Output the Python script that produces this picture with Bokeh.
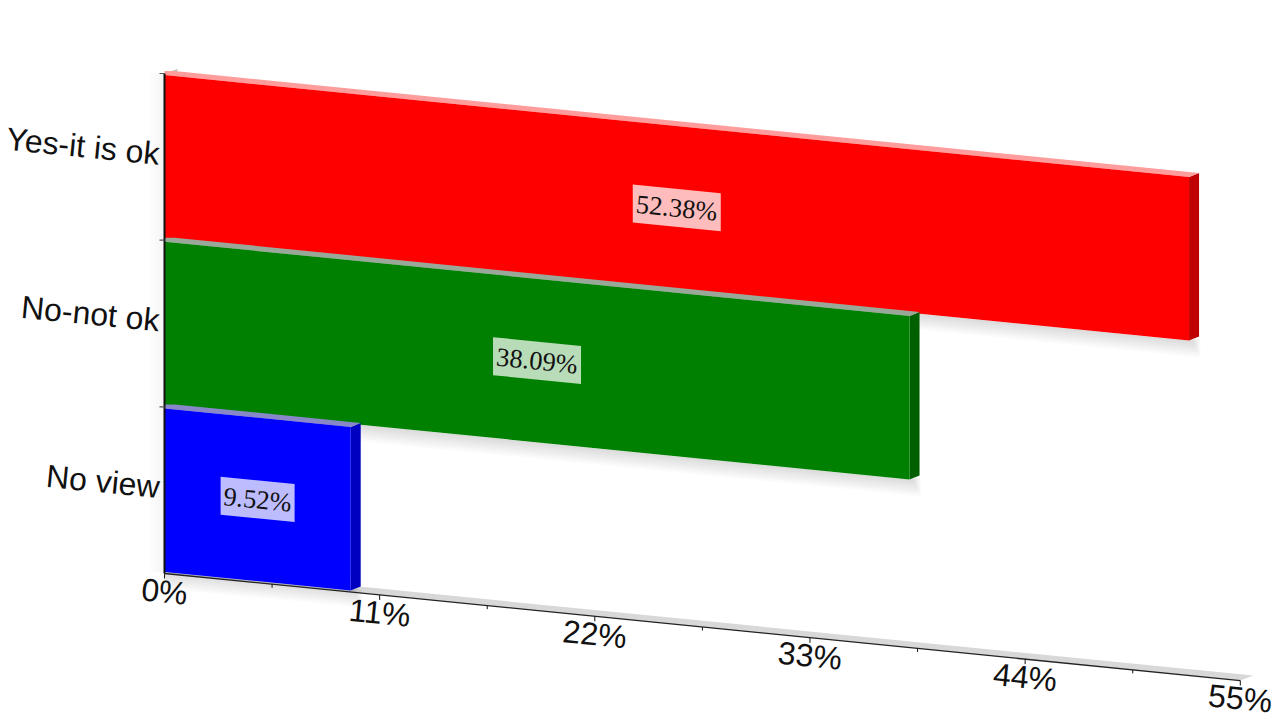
from bokeh.plotting import figure
from bokeh.embed import file_html
from bokeh.resources import INLINE
from bokeh.models import Range1d
from bokeh.core.properties import value

categories = ["Yes-it is ok", "No-not ok", "No view"]
values = [52.38, 38.09, 9.52]
labels = ["52.38%", "38.09%", "9.52%"]
front_colors = ["#ff0000", "#008000", "#0000ff"]
side_colors = ["#c00000", "#006000", "#0000c0"]
top_colors = ["#ff9c9c", "#9aa89a", "#8888c8"]
box_colors = ["#ffbcbc", "#b8dcb8", "#bcbcff"]
major_ticks = [0, 11, 22, 33, 44, 55]
minor_ticks = [5.5, 16.5, 27.5, 38.5, 49.5]
tick_labels = ["0%", "11%", "22%", "33%", "44%", "55%"]

W, H = 1280, 720
PX_PCT = 19.56          # pixels per percent
PX_ROW = 166.67         # pixels per category row
X0, Y0 = 164, 573       # position of the origin inside the figure
SKEW = 0.0995 * PX_PCT / PX_ROW   # rows dropped per percent
DX, DY = 10 / PX_PCT, 4 / PX_ROW  # depth of the bars
BAR = 163.5 / PX_ROW    # bar height in rows
ANGLE = -0.0992

p = figure(width=W, height=H, output_backend="svg", toolbar_location=None,
           min_border=0, outline_line_color=None,
           x_range=Range1d(-X0 / PX_PCT, (W - X0) / PX_PCT),
           y_range=Range1d(-(H - Y0) / PX_ROW, Y0 / PX_ROW))
p.axis.visible = False
p.grid.visible = False


def pt(pct, row):
    """Skewed chart plane: pct along the axis, row above the axis line."""
    return pct, row - SKEW * pct


def poly(corners, color, alpha=1.0):
    xs, ys = zip(*corners)
    p.patch(list(xs), list(ys), fill_color=color, fill_alpha=alpha, line_color=None)


px, py = 1 / PX_PCT, 1 / PX_ROW
n = len(categories)
last = major_ticks[-1]

# soft shadow left of the value axis
for k in range(5):
    poly([pt(-(k + 1) * 3 * px, n), pt(0, n), pt(0, 0), pt(-(k + 1) * 3 * px, 0)], "#000000", 0.006)

# floor band and wall cap
fdx, fdy = 13 * px, 5 * py
poly([pt(0, 0), pt(last, 0), (pt(last, 0)[0] + fdx, pt(last, 0)[1] + fdy), (fdx, fdy)], "#d8d8d8")
poly([(0, n), (fdx, n + 4.5 * py), (fdx, n + 2 * py), (0, n - 1.5 * py)], "#c0c0c0")

# bars, drawn from the back row to the front row
for i, (v, fc, sc, tc) in enumerate(zip(values, front_colors, side_colors, top_colors)):
    center = n - i - 0.5
    top, bot = center + BAR / 2, center - BAR / 2
    # soft shadow beneath the bar
    for k in range(7):
        d = (k + 1) * 2.4
        poly([pt(0, bot), pt(v, bot),
              (pt(v, bot)[0] + (d * 0.5 + 3) * px, pt(v, bot)[1] + 2 * py),
              (pt(v, bot)[0] + (d * 0.5 + 3) * px, pt(v, bot)[1] - d * py),
              pt(0, bot - d * py)], "#000000", 0.018)
    poly([pt(v, top), pt(v, bot),
          (pt(v, bot)[0] + DX, pt(v, bot)[1] + DY),
          (pt(v, top)[0] + DX, pt(v, top)[1] + DY)], sc)
    poly([pt(0, top), pt(v, top),
          (pt(v, top)[0] + DX, pt(v, top)[1] + DY),
          (DX, top + DY), (0, top + DY)], tc)
    poly([pt(0, top), pt(v, top), pt(v, bot), pt(0, bot)], fc)

# value axis lines and ticks
xa, ya = zip(pt(0, 0), pt(last, 0))
p.line(list(xa), list(ya), line_color="#222222", line_width=1.3)
p.line([0, 0], [0, n], line_color="#111111", line_width=2)
for t in major_ticks:
    a, b = pt(t, 0)
    p.line([a, a], [b, b - 5 * py], line_color="#111111", line_width=1)
for t in minor_ticks:
    a, b = pt(t, 0)
    p.line([a, a], [b, b - 3.5 * py], line_color="#111111", line_width=1)
for r in range(1, n + 1):
    p.line([-5 * px, 0], [r, r], line_color="#555555", line_width=1.2)

# tick labels
for t, s in zip(major_ticks, tick_labels):
    a, b = pt(t, 0)
    p.text([a], [b - 18 * py], text=[s], text_font=value("Liberation Sans"), text_font_size="32px",
           text_align="center", text_baseline="middle", angle=ANGLE, text_color="#111111")

# category labels
for i, c in enumerate(categories):
    p.text([-5 * px], [n - i - 0.5 + 3 * py], text=[c], text_font=value("Liberation Sans"),
           text_font_size="32px", text_align="right", text_baseline="middle",
           angle=ANGLE, text_color="#111111")

# data labels with their skewed boxes
for i, (v, s, bc) in enumerate(zip(values, labels, box_colors)):
    hw = (44 if len(s) == 6 else 37) * px
    hh = 19 * py
    cx, cy = v / 2, n - i - 0.5
    poly([pt(cx - hw, cy + hh), pt(cx + hw, cy + hh), pt(cx + hw, cy - hh), pt(cx - hw, cy - hh)], bc)
    a, b = pt(cx, cy)
    p.text([a], [b], text=[s], text_font=value("Liberation Serif"), text_font_size="26.5px",
           text_align="center", text_baseline="middle", angle=ANGLE, text_color="#111111")

open("out.html", "w").write(file_html(p, INLINE))
